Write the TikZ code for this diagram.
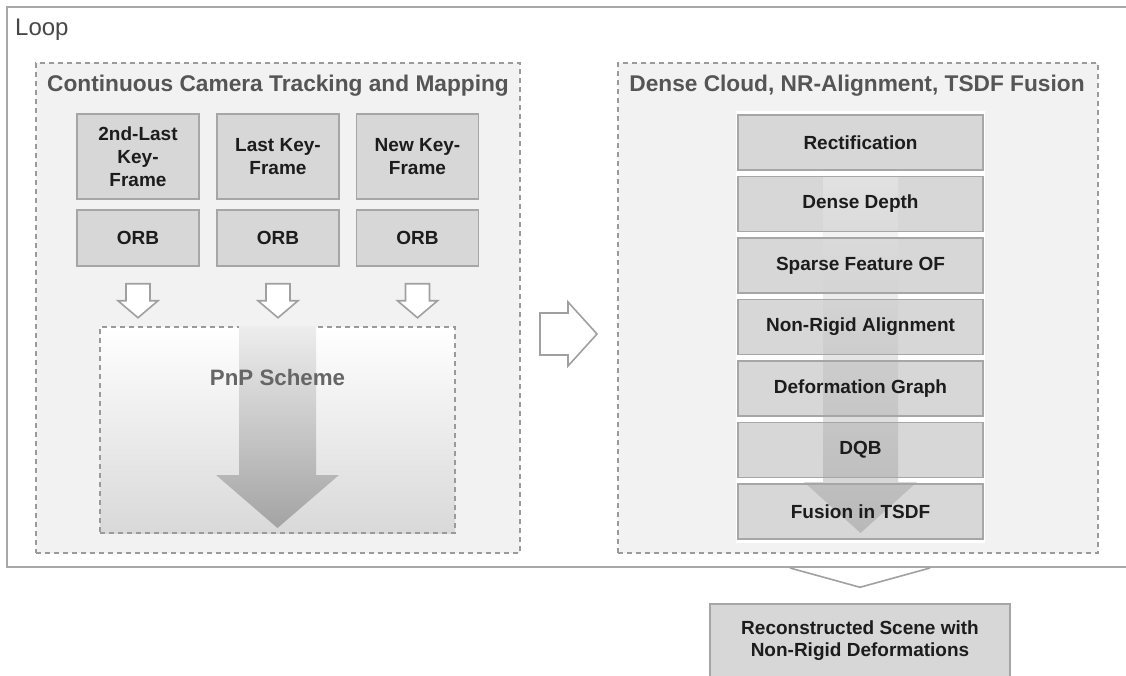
\documentclass[tikz,border=0pt]{standalone}
\usepackage{fontspec}
\setmainfont{Liberation Sans}
\usetikzlibrary{calc}

\pgfdeclarelayer{back}
\pgfdeclarelayer{fills}
\pgfdeclarelayer{tints}
\pgfsetlayers{back,fills,tints,main}

\definecolor{boxfill}{HTML}{D7D7D7}
\definecolor{boxline}{HTML}{A6A6A6}
\definecolor{groupfill}{HTML}{F2F2F2}
\definecolor{dashline}{HTML}{9A9A9A}
\definecolor{loopline}{HTML}{A8A8A8}
\definecolor{titlegray}{HTML}{555555}
\definecolor{hollowline}{HTML}{A0A0A0}
\definecolor{boxtextcol}{HTML}{1C1C1C}

\tikzset{
  boxtext/.style={font=\bfseries\fontsize{19}{23}\selectfont, text=boxtextcol,
    align=center, inner sep=0pt},
  procbox/.style={boxtext, draw=boxline, line width=1.5pt, fill=boxfill},
  stackbox/.style={boxtext, draw=boxline, line width=1.5pt,
    minimum width=245, minimum height=55},
  group/.style={draw=dashline, line width=2pt, dash pattern=on 5pt off 4pt,
    fill=groupfill, inner sep=0pt},
  grouptitle/.style={font=\bfseries\fontsize{22.7}{26}\selectfont,
    text=titlegray, inner sep=0pt},
  hollow/.style={draw=hollowline, line width=1.6pt, fill=white, line join=miter},
  pics/hollowdown/.style={code={
    \path[hollow] (-12,0) -- (12,0) -- (12,17) -- (20,17) -- (0,34)
      -- (-20,17) -- (-12,17) -- cycle;}},
  pics/hollowright/.style={code={
    \path[hollow] (0,-21) -- (28,-21) -- (28,-32) -- (57,0) -- (28,32)
      -- (28,21) -- (0,21) -- cycle;}},
}

\begin{document}
\begin{tikzpicture}[x=1pt, y=-1pt]
\useasboundingbox (0,0) rectangle (1126,675);
\clip (0,0) rectangle (1126,675);

% --- outer loop frame and the two stage groups ---
\begin{pgfonlayer}{back}
  \draw[loopline, line width=2pt, fill=white] (7,7) rectangle (1160,567);
  \node[group, minimum width=484, minimum height=490] (track) at (278,308) {};
  \node[group, minimum width=480, minimum height=490] (dense) at (858,308) {};
\end{pgfonlayer}

\node[anchor=west, font=\fontsize{24}{28}\selectfont, text=black!72,
  inner sep=0pt] (looplbl) at (15,30) {Loop};
\node[grouptitle] (tracktitle) at (278,86) {Continuous Camera Tracking and Mapping};
\node[grouptitle] (densetitle) at (857,86) {Dense Cloud, NR-Alignment, TSDF Fusion};

% --- key-frames and their ORB features ---
\node[procbox, minimum width=122, minimum height=85] (kf1) at (138,156.5) {2nd-Last\\Key-\\Frame};
\node[procbox, minimum width=122, minimum height=85] (kf2) at (278,156.5) {Last Key-\\Frame};
\node[procbox, minimum width=122, minimum height=85] (kf3) at (417.5,156.5) {New Key-\\Frame};
\node[procbox, minimum width=122, minimum height=56] (orb1) at (138,238) {ORB};
\node[procbox, minimum width=122, minimum height=56] (orb2) at (278,238) {ORB};
\node[procbox, minimum width=122, minimum height=56] (orb3) at (417.5,238) {ORB};

\foreach \k in {1,2,3}
  \pic at ($(orb\k.south)+(0,17)$) {hollowdown};

% --- PnP scheme ---
\node[draw=dashline, line width=2pt, dash pattern=on 5pt off 4pt,
  top color=white, bottom color=black!15, inner sep=0pt,
  minimum width=355, minimum height=206] (pnp) at (277.5,430) {};
\shade[top color=black!7, bottom color=black!36]
  ($(pnp.north)+(-38.5,0)$) -- ($(pnp.north)+(38.5,0)$) -- (316,475)
  -- (339,475) -- (277.5,528) -- (216,475) -- (239,475) -- cycle;
\node[font=\bfseries\fontsize{22.3}{26}\selectfont, text=black!60,
  inner sep=0pt] (pnplbl) at (277.5,378) {PnP Scheme};

% --- hand-over between the two stages ---
\pic at (540,334) {hollowright};

% --- dense processing pipeline ---
\foreach \i/\t in {0/Rectification, 1/Dense Depth, 2/Sparse Feature OF,
    3/Non-Rigid Alignment, 4/Deformation Graph, 5/DQB, 6/Fusion in TSDF}
  \node[stackbox] (s\i) at (860.5,{142.5+61.5*\i}) {\t};

\begin{pgfonlayer}{fills}
  \fill[white] ($(s0.north west)+(-1,-3)$) rectangle ($(s6.south east)+(1,3)$);
  \foreach \i in {0,...,6}
    \fill[boxfill] (s\i.north west) rectangle (s\i.south east);
\end{pgfonlayer}

\begin{pgfonlayer}{tints}
  \shade[top color=black!5, bottom color=black!45, opacity=0.4]
    ($(s1.north)+(-37.5,0)$) -- ($(s1.north)+(37.5,0)$) -- (898,482)
    -- (917,482) -- (860.5,533) -- (804,482) -- (823,482) -- cycle;
\end{pgfonlayer}

% --- result ---
\node[procbox, minimum width=300, minimum height=74, font=\bfseries\fontsize{19}{22}\selectfont]
  (recon) at (860,641) {Reconstructed Scene with\\Non-Rigid Deformations};
\draw[hollowline, line width=1.6pt]
  (790,568) -- ($(recon.north)+(0,-16)$) -- (930,568);
\end{tikzpicture}
\end{document}
